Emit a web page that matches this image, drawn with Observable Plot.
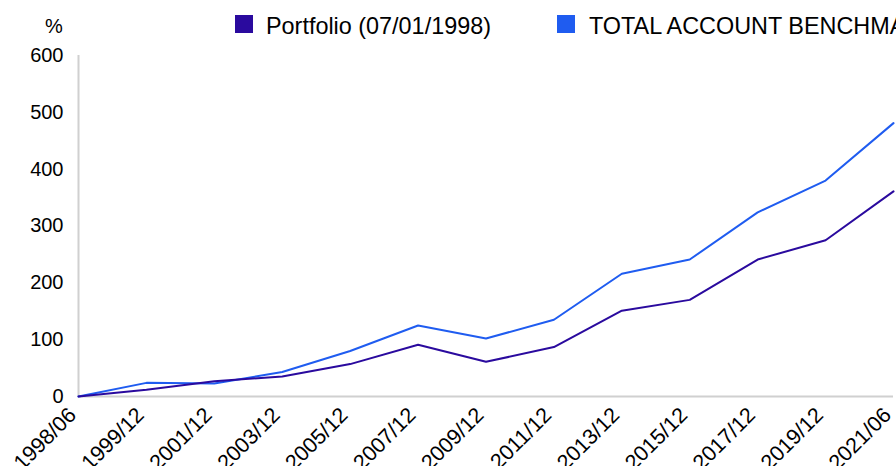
<!DOCTYPE html>
<html>
<head>
<meta charset="utf-8">
<script src="https://cdn.jsdelivr.net/npm/d3@7"></script>
<script src="https://cdn.jsdelivr.net/npm/@observablehq/plot@0.6"></script>
<style>
  html, body { margin: 0; padding: 0; background: #fff; }
  body { width: 896px; height: 466px; overflow: hidden; font-family: "Liberation Sans", Arial, sans-serif; }
  #wrap { position: relative; width: 896px; height: 466px; }
  #legend { position: absolute; left: 0; top: 0; width: 896px; height: 50px; color: #000; white-space: nowrap; overflow: hidden; }
  #legend span { position: absolute; line-height: 1; }
  #legend .pct { left: 45px; top: 16px; font-size: 20px; }
  #legend .sw { top: 15px; width: 18px; height: 18px; }
  #legend .lab { top: 14.5px; font-size: 23.4px; }
  #chart { position: absolute; left: 0; top: 0; }
</style>
</head>
<body>
<div id="wrap">
  <div id="chart"></div>
  <div id="legend"></div>
</div>
<script>
const dates = ["1998/06","1999/12","2001/12","2003/12","2005/12","2007/12","2009/12","2011/12","2013/12","2015/12","2017/12","2019/12","2021/06"];
const portfolio = [0, 12, 27, 35, 57, 91, 61, 87, 151, 170, 241, 275, 361];
const benchmark = [0, 24, 23, 43, 80, 125, 102, 135, 216, 241, 324, 380, 481];
const yTicks = [0, 100, 200, 300, 400, 500, 600];
const seriesNames = ["Portfolio (07/01/1998)", "TOTAL ACCOUNT BENCHMARK"];
const seriesColors = ["#2a0a9e", "#1f5cf0"];

const rows = [];
dates.forEach((d, i) => rows.push({date: d, value: benchmark[i], series: seriesNames[1]}));
dates.forEach((d, i) => rows.push({date: d, value: portfolio[i], series: seriesNames[0]}));

const chart = Plot.plot({
  width: 896,
  height: 466,
  marginLeft: 78,
  marginRight: 3,
  marginTop: 55,
  marginBottom: 70,
  style: {fontFamily: "'Liberation Sans', Arial, sans-serif", color: "#000", background: "transparent"},
  x: {type: "point", domain: dates, padding: 0, round: false, label: null},
  y: {domain: [0, 600], label: null},
  color: {domain: seriesNames, range: seriesColors},
  marks: [
    Plot.axisY({ticks: yTicks, tickSize: 0, tickPadding: 15, fontSize: 20, label: null}),
    Plot.axisX({tickSize: 0, tickPadding: 6, tickRotate: -45, fontSize: 21.5, dx: -6, dy: 9, label: null}),
    Plot.ruleX([dates[0]], {y1: 0, y2: 600, stroke: "#d0d0d0", strokeWidth: 2}),
    Plot.ruleY([0], {stroke: "#d0d0d0", strokeWidth: 2}),
    Plot.line(rows.filter(r => r.series === seriesNames[1]), {x: "date", y: "value", stroke: "series", strokeWidth: 2}),
    Plot.line(rows.filter(r => r.series === seriesNames[0]), {x: "date", y: "value", stroke: "series", strokeWidth: 2})
  ]
});
document.getElementById("chart").appendChild(chart);

const legend = document.getElementById("legend");
legend.innerHTML = `<span class="pct">%</span>` +
  `<span class="sw" style="left:235px;background:${seriesColors[0]}"></span>` +
  `<span class="lab" style="left:266px">${seriesNames[0]}</span>` +
  `<span class="sw" style="left:557px;background:${seriesColors[1]}"></span>` +
  `<span class="lab" style="left:589px">${seriesNames[1]}</span>`;
</script>
</body>
</html>
